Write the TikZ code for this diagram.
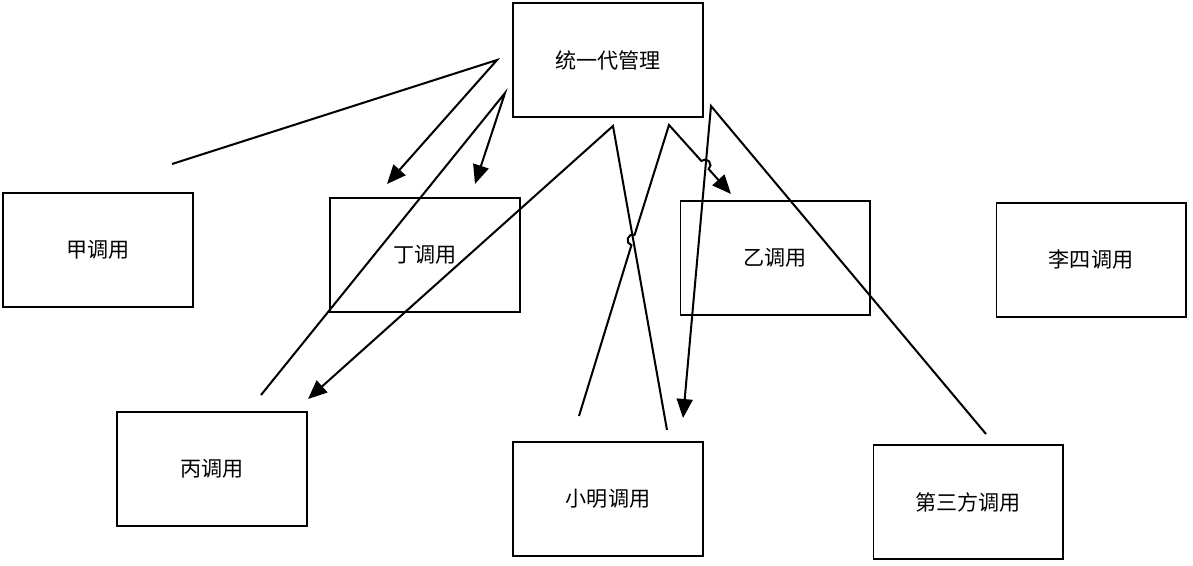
\documentclass[tikz,border=0pt]{standalone}
\usepackage{fontspec}
\newfontfamily\cjk{Noto Sans CJK SC}
\usetikzlibrary{arrows.meta, positioning, calc}

\begin{document}
\begin{tikzpicture}[x=0.02cm, y=-0.02cm]
\tikzset{
  callbox/.style={
    draw,
    rectangle,
    line width=0.6pt,
    minimum width=3.8cm,
    minimum height=2.28cm,
    font=\cjk\fontsize{12}{14}\selectfont
  },
  link/.style={line width=1.15pt, line join=miter},
  linkarrow/.style={link, -{Triangle[length=3.8mm, width=3.2mm]}}
}
\useasboundingbox (0,0) rectangle (1193,565);

% Boxes
\node[callbox] (mgr) at (608,60) {统一代管理};
\node[callbox] (jia) at (98,250) {甲调用};
\node[callbox] (ding) at (425,255) {丁调用};
\node[callbox] (yi) at (775,258) {乙调用};
\node[callbox] (lisi) at (1091,260) {李四调用};
\node[callbox] (bing) at (212,469) {丙调用};
\node[callbox] (xm) at (608,499) {小明调用};
\node[callbox] (dsf) at (968,502) {第三方调用};

% Connector points
\coordinate (c1a) at (172,164);
\coordinate (c1b) at (497,60);
\coordinate (c1c) at (387,184);
\coordinate (c2a) at (261,395);
\coordinate (c2b) at (505,93);
\coordinate (c2c) at (475,184);
\coordinate (c3a) at (667,430);
\coordinate (c3b) at (613,126);
\coordinate (c3c) at (308,399);
\coordinate (c4a) at (579,416);
\coordinate (c4b) at (669,125);
\coordinate (c4c) at (731,194);
\coordinate (c5a) at (986,434);
\coordinate (c5b) at (711,106);
\coordinate (c5c) at (683,418);
% Line jumps
\coordinate (jmp1) at (633,240);
\coordinate (jmp2) at (705,165);

% Connectors
\draw[linkarrow] (c1a) -- (c1b) -- (c1c);
\draw[linkarrow] (c2a) -- (c2b) -- (c2c);
\draw[linkarrow] (c3a) -- (c3b) -- (c3c);
\draw[linkarrow] (c4a) -- ($(jmp1)!0.11cm!(c4a)$)
  arc[start angle=252.8, end angle=72.8, radius=0.11cm] -- (c4b)
  -- ($(jmp2)!0.11cm!(c4b)$)
  arc[start angle=132, end angle=-48, radius=0.11cm] -- (c4c);
\draw[linkarrow] (c5a) -- (c5b) -- (c5c);

\end{tikzpicture}
\end{document}
